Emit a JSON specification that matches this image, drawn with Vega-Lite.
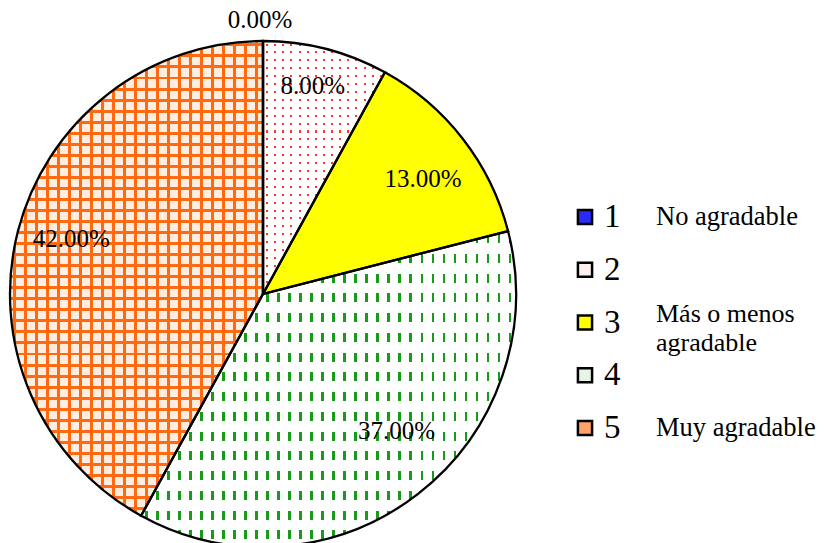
{
"$schema": "https://vega.github.io/schema/vega-lite/v6.json",
"background": "white",
"padding": 0,
"spacing": 44,
"datasets": {"d": [
 {"k": 1, "pct": 0, "desc": "No agradable"},
 {"k": 2, "pct": 0.08, "desc": ""},
 {"k": 3, "pct": 0.13, "desc": "Más o menos\nagradable"},
 {"k": 4, "pct": 0.37, "desc": ""},
 {"k": 5, "pct": 0.42, "desc": "Muy agradable"}
]},
"data": {"name": "d"},
"config": {"view": {"stroke": null}, "font": "Liberation Serif"},
"hconcat": [
{
 "width": 526, "height": 588,
 "transform": [{"stack": "pct", "groupby": [], "sort": [{"field": "k", "order": "ascending"}], "as": ["t0", "t1"]}],
 "layer": [
 {"transform": [{"filter": "datum.k == 2"}],
  "mark": {"type": "arc", "outerRadius": 253, "strokeWidth": 0, "fill": {"gradient": "linear", "x1": 0, "y1": 0, "x2": 1, "y2": 0, "stops": [
   {"offset":0,"color":"#fff"},
   {"offset":0.025,"color":"#fff"},{"offset":0.025,"color":"#f33"},{"offset":0.042,"color":"#f33"},{"offset":0.042,"color":"#fff"},
   {"offset":0.092,"color":"#fff"},{"offset":0.092,"color":"#f33"},{"offset":0.109,"color":"#f33"},{"offset":0.109,"color":"#fff"},
   {"offset":0.158,"color":"#fff"},{"offset":0.158,"color":"#f33"},{"offset":0.175,"color":"#f33"},{"offset":0.175,"color":"#fff"},
   {"offset":0.225,"color":"#fff"},{"offset":0.225,"color":"#f33"},{"offset":0.242,"color":"#f33"},{"offset":0.242,"color":"#fff"},
   {"offset":0.292,"color":"#fff"},{"offset":0.292,"color":"#f33"},{"offset":0.309,"color":"#f33"},{"offset":0.309,"color":"#fff"},
   {"offset":0.358,"color":"#fff"},{"offset":0.358,"color":"#f33"},{"offset":0.375,"color":"#f33"},{"offset":0.375,"color":"#fff"},
   {"offset":0.425,"color":"#fff"},{"offset":0.425,"color":"#f33"},{"offset":0.442,"color":"#f33"},{"offset":0.442,"color":"#fff"},
   {"offset":0.492,"color":"#fff"},{"offset":0.492,"color":"#f33"},{"offset":0.509,"color":"#f33"},{"offset":0.509,"color":"#fff"},
   {"offset":0.558,"color":"#fff"},{"offset":0.558,"color":"#f33"},{"offset":0.575,"color":"#f33"},{"offset":0.575,"color":"#fff"},
   {"offset":0.625,"color":"#fff"},{"offset":0.625,"color":"#f33"},{"offset":0.642,"color":"#f33"},{"offset":0.642,"color":"#fff"},
   {"offset":0.692,"color":"#fff"},{"offset":0.692,"color":"#f33"},{"offset":0.709,"color":"#f33"},{"offset":0.709,"color":"#fff"},
   {"offset":0.758,"color":"#fff"},{"offset":0.758,"color":"#f33"},{"offset":0.775,"color":"#f33"},{"offset":0.775,"color":"#fff"},
   {"offset":0.825,"color":"#fff"},{"offset":0.825,"color":"#f33"},{"offset":0.842,"color":"#f33"},{"offset":0.842,"color":"#fff"},
   {"offset":0.892,"color":"#fff"},{"offset":0.892,"color":"#f33"},{"offset":0.909,"color":"#f33"},{"offset":0.909,"color":"#fff"},
   {"offset":0.958,"color":"#fff"},{"offset":0.958,"color":"#f33"},{"offset":0.975,"color":"#f33"},{"offset":0.975,"color":"#fff"},
   {"offset":1,"color":"#fff"}]}},
  "encoding": {"theta": {"field": "t0", "type": "quantitative", "stack": null, "scale": {"domain": [0, 1]}}, "theta2": {"field": "t1"}}},
 {"transform": [{"filter": "datum.k == 2"}],
  "mark": {"type": "arc", "outerRadius": 253, "strokeWidth": 0, "fill": {"gradient": "linear", "x1": 0, "y1": 0, "x2": 0, "y2": 1, "stops": [
   {"offset":0,"color":"#fff"},
   {"offset":0.01,"color":"#fff"},{"offset":0.01,"color":"transparent"},{"offset":0.018,"color":"transparent"},{"offset":0.018,"color":"#fff"},
   {"offset":0.04125,"color":"#fff"},{"offset":0.04125,"color":"transparent"},{"offset":0.04925,"color":"transparent"},{"offset":0.04925,"color":"#fff"},
   {"offset":0.0725,"color":"#fff"},{"offset":0.0725,"color":"transparent"},{"offset":0.0805,"color":"transparent"},{"offset":0.0805,"color":"#fff"},
   {"offset":0.10375,"color":"#fff"},{"offset":0.10375,"color":"transparent"},{"offset":0.11175,"color":"transparent"},{"offset":0.11175,"color":"#fff"},
   {"offset":0.135,"color":"#fff"},{"offset":0.135,"color":"transparent"},{"offset":0.143,"color":"transparent"},{"offset":0.143,"color":"#fff"},
   {"offset":0.16625,"color":"#fff"},{"offset":0.16625,"color":"transparent"},{"offset":0.17425,"color":"transparent"},{"offset":0.17425,"color":"#fff"},
   {"offset":0.1975,"color":"#fff"},{"offset":0.1975,"color":"transparent"},{"offset":0.2055,"color":"transparent"},{"offset":0.2055,"color":"#fff"},
   {"offset":0.22875,"color":"#fff"},{"offset":0.22875,"color":"transparent"},{"offset":0.23675,"color":"transparent"},{"offset":0.23675,"color":"#fff"},
   {"offset":0.26,"color":"#fff"},{"offset":0.26,"color":"transparent"},{"offset":0.268,"color":"transparent"},{"offset":0.268,"color":"#fff"},
   {"offset":0.29125,"color":"#fff"},{"offset":0.29125,"color":"transparent"},{"offset":0.29925,"color":"transparent"},{"offset":0.29925,"color":"#fff"},
   {"offset":0.3225,"color":"#fff"},{"offset":0.3225,"color":"transparent"},{"offset":0.3305,"color":"transparent"},{"offset":0.3305,"color":"#fff"},
   {"offset":0.35375,"color":"#fff"},{"offset":0.35375,"color":"transparent"},{"offset":0.36175,"color":"transparent"},{"offset":0.36175,"color":"#fff"},
   {"offset":0.385,"color":"#fff"},{"offset":0.385,"color":"transparent"},{"offset":0.393,"color":"transparent"},{"offset":0.393,"color":"#fff"},
   {"offset":0.41625,"color":"#fff"},{"offset":0.41625,"color":"transparent"},{"offset":0.42425,"color":"transparent"},{"offset":0.42425,"color":"#fff"},
   {"offset":0.4475,"color":"#fff"},{"offset":0.4475,"color":"transparent"},{"offset":0.4555,"color":"transparent"},{"offset":0.4555,"color":"#fff"},
   {"offset":0.47875,"color":"#fff"},{"offset":0.47875,"color":"transparent"},{"offset":0.48675,"color":"transparent"},{"offset":0.48675,"color":"#fff"},
   {"offset":0.51,"color":"#fff"},{"offset":0.51,"color":"transparent"},{"offset":0.518,"color":"transparent"},{"offset":0.518,"color":"#fff"},
   {"offset":0.54125,"color":"#fff"},{"offset":0.54125,"color":"transparent"},{"offset":0.54925,"color":"transparent"},{"offset":0.54925,"color":"#fff"},
   {"offset":0.5725,"color":"#fff"},{"offset":0.5725,"color":"transparent"},{"offset":0.5805,"color":"transparent"},{"offset":0.5805,"color":"#fff"},
   {"offset":0.60375,"color":"#fff"},{"offset":0.60375,"color":"transparent"},{"offset":0.61175,"color":"transparent"},{"offset":0.61175,"color":"#fff"},
   {"offset":0.635,"color":"#fff"},{"offset":0.635,"color":"transparent"},{"offset":0.643,"color":"transparent"},{"offset":0.643,"color":"#fff"},
   {"offset":0.66625,"color":"#fff"},{"offset":0.66625,"color":"transparent"},{"offset":0.67425,"color":"transparent"},{"offset":0.67425,"color":"#fff"},
   {"offset":0.6975,"color":"#fff"},{"offset":0.6975,"color":"transparent"},{"offset":0.7055,"color":"transparent"},{"offset":0.7055,"color":"#fff"},
   {"offset":0.72875,"color":"#fff"},{"offset":0.72875,"color":"transparent"},{"offset":0.73675,"color":"transparent"},{"offset":0.73675,"color":"#fff"},
   {"offset":0.76,"color":"#fff"},{"offset":0.76,"color":"transparent"},{"offset":0.768,"color":"transparent"},{"offset":0.768,"color":"#fff"},
   {"offset":0.79125,"color":"#fff"},{"offset":0.79125,"color":"transparent"},{"offset":0.79925,"color":"transparent"},{"offset":0.79925,"color":"#fff"},
   {"offset":0.8225,"color":"#fff"},{"offset":0.8225,"color":"transparent"},{"offset":0.8305,"color":"transparent"},{"offset":0.8305,"color":"#fff"},
   {"offset":0.85375,"color":"#fff"},{"offset":0.85375,"color":"transparent"},{"offset":0.86175,"color":"transparent"},{"offset":0.86175,"color":"#fff"},
   {"offset":0.885,"color":"#fff"},{"offset":0.885,"color":"transparent"},{"offset":0.893,"color":"transparent"},{"offset":0.893,"color":"#fff"},
   {"offset":0.91625,"color":"#fff"},{"offset":0.91625,"color":"transparent"},{"offset":0.92425,"color":"transparent"},{"offset":0.92425,"color":"#fff"},
   {"offset":0.9475,"color":"#fff"},{"offset":0.9475,"color":"transparent"},{"offset":0.9555,"color":"transparent"},{"offset":0.9555,"color":"#fff"},
   {"offset":0.97875,"color":"#fff"},{"offset":0.97875,"color":"transparent"},{"offset":0.98675,"color":"transparent"},{"offset":0.98675,"color":"#fff"},
   {"offset":1,"color":"#fff"}]}},
  "encoding": {"theta": {"field": "t0", "type": "quantitative", "stack": null, "scale": {"domain": [0, 1]}}, "theta2": {"field": "t1"}}},
 {"transform": [{"filter": "datum.k == 3"}],
  "mark": {"type": "arc", "outerRadius": 253, "strokeWidth": 0, "fill": "#ffff00"},
  "encoding": {"theta": {"field": "t0", "type": "quantitative", "stack": null, "scale": {"domain": [0, 1]}}, "theta2": {"field": "t1"}}},
 {"transform": [{"filter": "datum.k == 4"}],
  "mark": {"type": "arc", "outerRadius": 253, "strokeWidth": 0, "fill": {"gradient": "linear", "x1": 0, "y1": 0, "x2": 1, "y2": 0, "stops": [
   {"offset":0,"color":"#fff"},
   {"offset":0.01,"color":"#fff"},{"offset":0.01,"color":"#1a9a1a"},{"offset":0.0172,"color":"#1a9a1a"},{"offset":0.0172,"color":"#fff"},
   {"offset":0.0394,"color":"#fff"},{"offset":0.0394,"color":"#1a9a1a"},{"offset":0.0466,"color":"#1a9a1a"},{"offset":0.0466,"color":"#fff"},
   {"offset":0.0688,"color":"#fff"},{"offset":0.0688,"color":"#1a9a1a"},{"offset":0.076,"color":"#1a9a1a"},{"offset":0.076,"color":"#fff"},
   {"offset":0.0982,"color":"#fff"},{"offset":0.0982,"color":"#1a9a1a"},{"offset":0.1054,"color":"#1a9a1a"},{"offset":0.1054,"color":"#fff"},
   {"offset":0.1277,"color":"#fff"},{"offset":0.1277,"color":"#1a9a1a"},{"offset":0.1349,"color":"#1a9a1a"},{"offset":0.1349,"color":"#fff"},
   {"offset":0.1571,"color":"#fff"},{"offset":0.1571,"color":"#1a9a1a"},{"offset":0.1643,"color":"#1a9a1a"},{"offset":0.1643,"color":"#fff"},
   {"offset":0.1865,"color":"#fff"},{"offset":0.1865,"color":"#1a9a1a"},{"offset":0.1937,"color":"#1a9a1a"},{"offset":0.1937,"color":"#fff"},
   {"offset":0.2159,"color":"#fff"},{"offset":0.2159,"color":"#1a9a1a"},{"offset":0.2231,"color":"#1a9a1a"},{"offset":0.2231,"color":"#fff"},
   {"offset":0.2453,"color":"#fff"},{"offset":0.2453,"color":"#1a9a1a"},{"offset":0.2525,"color":"#1a9a1a"},{"offset":0.2525,"color":"#fff"},
   {"offset":0.2747,"color":"#fff"},{"offset":0.2747,"color":"#1a9a1a"},{"offset":0.2819,"color":"#1a9a1a"},{"offset":0.2819,"color":"#fff"},
   {"offset":0.3041,"color":"#fff"},{"offset":0.3041,"color":"#1a9a1a"},{"offset":0.3113,"color":"#1a9a1a"},{"offset":0.3113,"color":"#fff"},
   {"offset":0.3335,"color":"#fff"},{"offset":0.3335,"color":"#1a9a1a"},{"offset":0.3407,"color":"#1a9a1a"},{"offset":0.3407,"color":"#fff"},
   {"offset":0.3629,"color":"#fff"},{"offset":0.3629,"color":"#1a9a1a"},{"offset":0.3701,"color":"#1a9a1a"},{"offset":0.3701,"color":"#fff"},
   {"offset":0.3924,"color":"#fff"},{"offset":0.3924,"color":"#1a9a1a"},{"offset":0.3996,"color":"#1a9a1a"},{"offset":0.3996,"color":"#fff"},
   {"offset":0.4218,"color":"#fff"},{"offset":0.4218,"color":"#1a9a1a"},{"offset":0.429,"color":"#1a9a1a"},{"offset":0.429,"color":"#fff"},
   {"offset":0.4512,"color":"#fff"},{"offset":0.4512,"color":"#1a9a1a"},{"offset":0.4584,"color":"#1a9a1a"},{"offset":0.4584,"color":"#fff"},
   {"offset":0.4806,"color":"#fff"},{"offset":0.4806,"color":"#1a9a1a"},{"offset":0.4878,"color":"#1a9a1a"},{"offset":0.4878,"color":"#fff"},
   {"offset":0.51,"color":"#fff"},{"offset":0.51,"color":"#1a9a1a"},{"offset":0.5172,"color":"#1a9a1a"},{"offset":0.5172,"color":"#fff"},
   {"offset":0.5394,"color":"#fff"},{"offset":0.5394,"color":"#1a9a1a"},{"offset":0.5466,"color":"#1a9a1a"},{"offset":0.5466,"color":"#fff"},
   {"offset":0.5688,"color":"#fff"},{"offset":0.5688,"color":"#1a9a1a"},{"offset":0.576,"color":"#1a9a1a"},{"offset":0.576,"color":"#fff"},
   {"offset":0.5982,"color":"#fff"},{"offset":0.5982,"color":"#1a9a1a"},{"offset":0.6054,"color":"#1a9a1a"},{"offset":0.6054,"color":"#fff"},
   {"offset":0.6277,"color":"#fff"},{"offset":0.6277,"color":"#1a9a1a"},{"offset":0.6349,"color":"#1a9a1a"},{"offset":0.6349,"color":"#fff"},
   {"offset":0.6571,"color":"#fff"},{"offset":0.6571,"color":"#1a9a1a"},{"offset":0.6643,"color":"#1a9a1a"},{"offset":0.6643,"color":"#fff"},
   {"offset":0.6865,"color":"#fff"},{"offset":0.6865,"color":"#1a9a1a"},{"offset":0.6937,"color":"#1a9a1a"},{"offset":0.6937,"color":"#fff"},
   {"offset":0.7159,"color":"#fff"},{"offset":0.7159,"color":"#1a9a1a"},{"offset":0.7231,"color":"#1a9a1a"},{"offset":0.7231,"color":"#fff"},
   {"offset":0.7453,"color":"#fff"},{"offset":0.7453,"color":"#1a9a1a"},{"offset":0.7525,"color":"#1a9a1a"},{"offset":0.7525,"color":"#fff"},
   {"offset":0.7747,"color":"#fff"},{"offset":0.7747,"color":"#1a9a1a"},{"offset":0.7819,"color":"#1a9a1a"},{"offset":0.7819,"color":"#fff"},
   {"offset":0.8041,"color":"#fff"},{"offset":0.8041,"color":"#1a9a1a"},{"offset":0.8113,"color":"#1a9a1a"},{"offset":0.8113,"color":"#fff"},
   {"offset":0.8335,"color":"#fff"},{"offset":0.8335,"color":"#1a9a1a"},{"offset":0.8407,"color":"#1a9a1a"},{"offset":0.8407,"color":"#fff"},
   {"offset":0.8629,"color":"#fff"},{"offset":0.8629,"color":"#1a9a1a"},{"offset":0.8701,"color":"#1a9a1a"},{"offset":0.8701,"color":"#fff"},
   {"offset":0.8924,"color":"#fff"},{"offset":0.8924,"color":"#1a9a1a"},{"offset":0.8996,"color":"#1a9a1a"},{"offset":0.8996,"color":"#fff"},
   {"offset":0.9218,"color":"#fff"},{"offset":0.9218,"color":"#1a9a1a"},{"offset":0.929,"color":"#1a9a1a"},{"offset":0.929,"color":"#fff"},
   {"offset":0.9512,"color":"#fff"},{"offset":0.9512,"color":"#1a9a1a"},{"offset":0.9584,"color":"#1a9a1a"},{"offset":0.9584,"color":"#fff"},
   {"offset":0.9806,"color":"#fff"},{"offset":0.9806,"color":"#1a9a1a"},{"offset":0.9878,"color":"#1a9a1a"},{"offset":0.9878,"color":"#fff"},
   {"offset":1,"color":"#fff"}]}},
  "encoding": {"theta": {"field": "t0", "type": "quantitative", "stack": null, "scale": {"domain": [0, 1]}}, "theta2": {"field": "t1"}}},
 {"transform": [{"filter": "datum.k == 4"}],
  "mark": {"type": "arc", "outerRadius": 253, "strokeWidth": 0, "fill": {"gradient": "linear", "x1": 0, "y1": 0, "x2": 0, "y2": 1, "stops": [
   {"offset":0,"color":"#fff"},
   {"offset":0.01,"color":"#fff"},{"offset":0.01,"color":"transparent"},{"offset":0.0385,"color":"transparent"},{"offset":0.0385,"color":"#fff"},
   {"offset":0.0725,"color":"#fff"},{"offset":0.0725,"color":"transparent"},{"offset":0.101,"color":"transparent"},{"offset":0.101,"color":"#fff"},
   {"offset":0.135,"color":"#fff"},{"offset":0.135,"color":"transparent"},{"offset":0.1635,"color":"transparent"},{"offset":0.1635,"color":"#fff"},
   {"offset":0.1975,"color":"#fff"},{"offset":0.1975,"color":"transparent"},{"offset":0.226,"color":"transparent"},{"offset":0.226,"color":"#fff"},
   {"offset":0.26,"color":"#fff"},{"offset":0.26,"color":"transparent"},{"offset":0.2885,"color":"transparent"},{"offset":0.2885,"color":"#fff"},
   {"offset":0.3225,"color":"#fff"},{"offset":0.3225,"color":"transparent"},{"offset":0.351,"color":"transparent"},{"offset":0.351,"color":"#fff"},
   {"offset":0.385,"color":"#fff"},{"offset":0.385,"color":"transparent"},{"offset":0.4135,"color":"transparent"},{"offset":0.4135,"color":"#fff"},
   {"offset":0.4475,"color":"#fff"},{"offset":0.4475,"color":"transparent"},{"offset":0.476,"color":"transparent"},{"offset":0.476,"color":"#fff"},
   {"offset":0.51,"color":"#fff"},{"offset":0.51,"color":"transparent"},{"offset":0.5385,"color":"transparent"},{"offset":0.5385,"color":"#fff"},
   {"offset":0.5725,"color":"#fff"},{"offset":0.5725,"color":"transparent"},{"offset":0.601,"color":"transparent"},{"offset":0.601,"color":"#fff"},
   {"offset":0.635,"color":"#fff"},{"offset":0.635,"color":"transparent"},{"offset":0.6635,"color":"transparent"},{"offset":0.6635,"color":"#fff"},
   {"offset":0.6975,"color":"#fff"},{"offset":0.6975,"color":"transparent"},{"offset":0.726,"color":"transparent"},{"offset":0.726,"color":"#fff"},
   {"offset":0.76,"color":"#fff"},{"offset":0.76,"color":"transparent"},{"offset":0.7885,"color":"transparent"},{"offset":0.7885,"color":"#fff"},
   {"offset":0.8225,"color":"#fff"},{"offset":0.8225,"color":"transparent"},{"offset":0.851,"color":"transparent"},{"offset":0.851,"color":"#fff"},
   {"offset":0.885,"color":"#fff"},{"offset":0.885,"color":"transparent"},{"offset":0.9135,"color":"transparent"},{"offset":0.9135,"color":"#fff"},
   {"offset":0.9475,"color":"#fff"},{"offset":0.9475,"color":"transparent"},{"offset":0.976,"color":"transparent"},{"offset":0.976,"color":"#fff"},
   {"offset":1,"color":"#fff"}]}},
  "encoding": {"theta": {"field": "t0", "type": "quantitative", "stack": null, "scale": {"domain": [0, 1]}}, "theta2": {"field": "t1"}}},
 {"transform": [{"filter": "datum.k == 5"}],
  "mark": {"type": "arc", "outerRadius": 253, "strokeWidth": 0, "fill": {"gradient": "linear", "x1": 0, "y1": 0, "x2": 1, "y2": 0, "stops": [
   {"offset":0,"color":"#ffeedf"},
   {"offset":0.01,"color":"#ffeedf"},{"offset":0.01,"color":"#ff6a10"},{"offset":0.0219,"color":"#ff6a10"},{"offset":0.0219,"color":"#ffeedf"},
   {"offset":0.0535,"color":"#ffeedf"},{"offset":0.0535,"color":"#ff6a10"},{"offset":0.0654,"color":"#ff6a10"},{"offset":0.0654,"color":"#ffeedf"},
   {"offset":0.097,"color":"#ffeedf"},{"offset":0.097,"color":"#ff6a10"},{"offset":0.1089,"color":"#ff6a10"},{"offset":0.1089,"color":"#ffeedf"},
   {"offset":0.1404,"color":"#ffeedf"},{"offset":0.1404,"color":"#ff6a10"},{"offset":0.1523,"color":"#ff6a10"},{"offset":0.1523,"color":"#ffeedf"},
   {"offset":0.1839,"color":"#ffeedf"},{"offset":0.1839,"color":"#ff6a10"},{"offset":0.1958,"color":"#ff6a10"},{"offset":0.1958,"color":"#ffeedf"},
   {"offset":0.2274,"color":"#ffeedf"},{"offset":0.2274,"color":"#ff6a10"},{"offset":0.2393,"color":"#ff6a10"},{"offset":0.2393,"color":"#ffeedf"},
   {"offset":0.2709,"color":"#ffeedf"},{"offset":0.2709,"color":"#ff6a10"},{"offset":0.2828,"color":"#ff6a10"},{"offset":0.2828,"color":"#ffeedf"},
   {"offset":0.3143,"color":"#ffeedf"},{"offset":0.3143,"color":"#ff6a10"},{"offset":0.3262,"color":"#ff6a10"},{"offset":0.3262,"color":"#ffeedf"},
   {"offset":0.3578,"color":"#ffeedf"},{"offset":0.3578,"color":"#ff6a10"},{"offset":0.3697,"color":"#ff6a10"},{"offset":0.3697,"color":"#ffeedf"},
   {"offset":0.4013,"color":"#ffeedf"},{"offset":0.4013,"color":"#ff6a10"},{"offset":0.4132,"color":"#ff6a10"},{"offset":0.4132,"color":"#ffeedf"},
   {"offset":0.4448,"color":"#ffeedf"},{"offset":0.4448,"color":"#ff6a10"},{"offset":0.4567,"color":"#ff6a10"},{"offset":0.4567,"color":"#ffeedf"},
   {"offset":0.4883,"color":"#ffeedf"},{"offset":0.4883,"color":"#ff6a10"},{"offset":0.5002,"color":"#ff6a10"},{"offset":0.5002,"color":"#ffeedf"},
   {"offset":0.5317,"color":"#ffeedf"},{"offset":0.5317,"color":"#ff6a10"},{"offset":0.5436,"color":"#ff6a10"},{"offset":0.5436,"color":"#ffeedf"},
   {"offset":0.5752,"color":"#ffeedf"},{"offset":0.5752,"color":"#ff6a10"},{"offset":0.5871,"color":"#ff6a10"},{"offset":0.5871,"color":"#ffeedf"},
   {"offset":0.6187,"color":"#ffeedf"},{"offset":0.6187,"color":"#ff6a10"},{"offset":0.6306,"color":"#ff6a10"},{"offset":0.6306,"color":"#ffeedf"},
   {"offset":0.6622,"color":"#ffeedf"},{"offset":0.6622,"color":"#ff6a10"},{"offset":0.6741,"color":"#ff6a10"},{"offset":0.6741,"color":"#ffeedf"},
   {"offset":0.7057,"color":"#ffeedf"},{"offset":0.7057,"color":"#ff6a10"},{"offset":0.7176,"color":"#ff6a10"},{"offset":0.7176,"color":"#ffeedf"},
   {"offset":0.7491,"color":"#ffeedf"},{"offset":0.7491,"color":"#ff6a10"},{"offset":0.761,"color":"#ff6a10"},{"offset":0.761,"color":"#ffeedf"},
   {"offset":0.7926,"color":"#ffeedf"},{"offset":0.7926,"color":"#ff6a10"},{"offset":0.8045,"color":"#ff6a10"},{"offset":0.8045,"color":"#ffeedf"},
   {"offset":0.8361,"color":"#ffeedf"},{"offset":0.8361,"color":"#ff6a10"},{"offset":0.848,"color":"#ff6a10"},{"offset":0.848,"color":"#ffeedf"},
   {"offset":0.8796,"color":"#ffeedf"},{"offset":0.8796,"color":"#ff6a10"},{"offset":0.8915,"color":"#ff6a10"},{"offset":0.8915,"color":"#ffeedf"},
   {"offset":0.923,"color":"#ffeedf"},{"offset":0.923,"color":"#ff6a10"},{"offset":0.9349,"color":"#ff6a10"},{"offset":0.9349,"color":"#ffeedf"},
   {"offset":0.9665,"color":"#ffeedf"},{"offset":0.9665,"color":"#ff6a10"},{"offset":0.9784,"color":"#ff6a10"},{"offset":0.9784,"color":"#ffeedf"},
   {"offset":1,"color":"#ffeedf"}]}},
  "encoding": {"theta": {"field": "t0", "type": "quantitative", "stack": null, "scale": {"domain": [0, 1]}}, "theta2": {"field": "t1"}}},
 {"transform": [{"filter": "datum.k == 5"}],
  "mark": {"type": "arc", "outerRadius": 253, "strokeWidth": 0, "fill": {"gradient": "linear", "x1": 0, "y1": 0, "x2": 0, "y2": 1, "stops": [
   {"offset":0,"color":"transparent"},
   {"offset":0.005,"color":"transparent"},{"offset":0.005,"color":"#ff6a10"},{"offset":0.0113,"color":"#ff6a10"},{"offset":0.0113,"color":"transparent"},
   {"offset":0.0283,"color":"transparent"},{"offset":0.0283,"color":"#ff6a10"},{"offset":0.0346,"color":"#ff6a10"},{"offset":0.0346,"color":"transparent"},
   {"offset":0.0515,"color":"transparent"},{"offset":0.0515,"color":"#ff6a10"},{"offset":0.0578,"color":"#ff6a10"},{"offset":0.0578,"color":"transparent"},
   {"offset":0.0748,"color":"transparent"},{"offset":0.0748,"color":"#ff6a10"},{"offset":0.0811,"color":"#ff6a10"},{"offset":0.0811,"color":"transparent"},
   {"offset":0.098,"color":"transparent"},{"offset":0.098,"color":"#ff6a10"},{"offset":0.1043,"color":"#ff6a10"},{"offset":0.1043,"color":"transparent"},
   {"offset":0.1213,"color":"transparent"},{"offset":0.1213,"color":"#ff6a10"},{"offset":0.1276,"color":"#ff6a10"},{"offset":0.1276,"color":"transparent"},
   {"offset":0.1445,"color":"transparent"},{"offset":0.1445,"color":"#ff6a10"},{"offset":0.1508,"color":"#ff6a10"},{"offset":0.1508,"color":"transparent"},
   {"offset":0.1678,"color":"transparent"},{"offset":0.1678,"color":"#ff6a10"},{"offset":0.1741,"color":"#ff6a10"},{"offset":0.1741,"color":"transparent"},
   {"offset":0.1911,"color":"transparent"},{"offset":0.1911,"color":"#ff6a10"},{"offset":0.1974,"color":"#ff6a10"},{"offset":0.1974,"color":"transparent"},
   {"offset":0.2143,"color":"transparent"},{"offset":0.2143,"color":"#ff6a10"},{"offset":0.2206,"color":"#ff6a10"},{"offset":0.2206,"color":"transparent"},
   {"offset":0.2376,"color":"transparent"},{"offset":0.2376,"color":"#ff6a10"},{"offset":0.2439,"color":"#ff6a10"},{"offset":0.2439,"color":"transparent"},
   {"offset":0.2608,"color":"transparent"},{"offset":0.2608,"color":"#ff6a10"},{"offset":0.2671,"color":"#ff6a10"},{"offset":0.2671,"color":"transparent"},
   {"offset":0.2841,"color":"transparent"},{"offset":0.2841,"color":"#ff6a10"},{"offset":0.2904,"color":"#ff6a10"},{"offset":0.2904,"color":"transparent"},
   {"offset":0.3073,"color":"transparent"},{"offset":0.3073,"color":"#ff6a10"},{"offset":0.3136,"color":"#ff6a10"},{"offset":0.3136,"color":"transparent"},
   {"offset":0.3306,"color":"transparent"},{"offset":0.3306,"color":"#ff6a10"},{"offset":0.3369,"color":"#ff6a10"},{"offset":0.3369,"color":"transparent"},
   {"offset":0.3538,"color":"transparent"},{"offset":0.3538,"color":"#ff6a10"},{"offset":0.3601,"color":"#ff6a10"},{"offset":0.3601,"color":"transparent"},
   {"offset":0.3771,"color":"transparent"},{"offset":0.3771,"color":"#ff6a10"},{"offset":0.3834,"color":"#ff6a10"},{"offset":0.3834,"color":"transparent"},
   {"offset":0.4004,"color":"transparent"},{"offset":0.4004,"color":"#ff6a10"},{"offset":0.4067,"color":"#ff6a10"},{"offset":0.4067,"color":"transparent"},
   {"offset":0.4236,"color":"transparent"},{"offset":0.4236,"color":"#ff6a10"},{"offset":0.4299,"color":"#ff6a10"},{"offset":0.4299,"color":"transparent"},
   {"offset":0.4469,"color":"transparent"},{"offset":0.4469,"color":"#ff6a10"},{"offset":0.4532,"color":"#ff6a10"},{"offset":0.4532,"color":"transparent"},
   {"offset":0.4701,"color":"transparent"},{"offset":0.4701,"color":"#ff6a10"},{"offset":0.4764,"color":"#ff6a10"},{"offset":0.4764,"color":"transparent"},
   {"offset":0.4934,"color":"transparent"},{"offset":0.4934,"color":"#ff6a10"},{"offset":0.4997,"color":"#ff6a10"},{"offset":0.4997,"color":"transparent"},
   {"offset":0.5166,"color":"transparent"},{"offset":0.5166,"color":"#ff6a10"},{"offset":0.5229,"color":"#ff6a10"},{"offset":0.5229,"color":"transparent"},
   {"offset":0.5399,"color":"transparent"},{"offset":0.5399,"color":"#ff6a10"},{"offset":0.5462,"color":"#ff6a10"},{"offset":0.5462,"color":"transparent"},
   {"offset":0.5631,"color":"transparent"},{"offset":0.5631,"color":"#ff6a10"},{"offset":0.5694,"color":"#ff6a10"},{"offset":0.5694,"color":"transparent"},
   {"offset":0.5864,"color":"transparent"},{"offset":0.5864,"color":"#ff6a10"},{"offset":0.5927,"color":"#ff6a10"},{"offset":0.5927,"color":"transparent"},
   {"offset":0.6097,"color":"transparent"},{"offset":0.6097,"color":"#ff6a10"},{"offset":0.616,"color":"#ff6a10"},{"offset":0.616,"color":"transparent"},
   {"offset":0.6329,"color":"transparent"},{"offset":0.6329,"color":"#ff6a10"},{"offset":0.6392,"color":"#ff6a10"},{"offset":0.6392,"color":"transparent"},
   {"offset":0.6562,"color":"transparent"},{"offset":0.6562,"color":"#ff6a10"},{"offset":0.6625,"color":"#ff6a10"},{"offset":0.6625,"color":"transparent"},
   {"offset":0.6794,"color":"transparent"},{"offset":0.6794,"color":"#ff6a10"},{"offset":0.6857,"color":"#ff6a10"},{"offset":0.6857,"color":"transparent"},
   {"offset":0.7027,"color":"transparent"},{"offset":0.7027,"color":"#ff6a10"},{"offset":0.709,"color":"#ff6a10"},{"offset":0.709,"color":"transparent"},
   {"offset":0.7259,"color":"transparent"},{"offset":0.7259,"color":"#ff6a10"},{"offset":0.7322,"color":"#ff6a10"},{"offset":0.7322,"color":"transparent"},
   {"offset":0.7492,"color":"transparent"},{"offset":0.7492,"color":"#ff6a10"},{"offset":0.7555,"color":"#ff6a10"},{"offset":0.7555,"color":"transparent"},
   {"offset":0.7724,"color":"transparent"},{"offset":0.7724,"color":"#ff6a10"},{"offset":0.7787,"color":"#ff6a10"},{"offset":0.7787,"color":"transparent"},
   {"offset":0.7957,"color":"transparent"},{"offset":0.7957,"color":"#ff6a10"},{"offset":0.802,"color":"#ff6a10"},{"offset":0.802,"color":"transparent"},
   {"offset":0.819,"color":"transparent"},{"offset":0.819,"color":"#ff6a10"},{"offset":0.8253,"color":"#ff6a10"},{"offset":0.8253,"color":"transparent"},
   {"offset":0.8422,"color":"transparent"},{"offset":0.8422,"color":"#ff6a10"},{"offset":0.8485,"color":"#ff6a10"},{"offset":0.8485,"color":"transparent"},
   {"offset":0.8655,"color":"transparent"},{"offset":0.8655,"color":"#ff6a10"},{"offset":0.8718,"color":"#ff6a10"},{"offset":0.8718,"color":"transparent"},
   {"offset":0.8887,"color":"transparent"},{"offset":0.8887,"color":"#ff6a10"},{"offset":0.895,"color":"#ff6a10"},{"offset":0.895,"color":"transparent"},
   {"offset":0.912,"color":"transparent"},{"offset":0.912,"color":"#ff6a10"},{"offset":0.9183,"color":"#ff6a10"},{"offset":0.9183,"color":"transparent"},
   {"offset":0.9352,"color":"transparent"},{"offset":0.9352,"color":"#ff6a10"},{"offset":0.9415,"color":"#ff6a10"},{"offset":0.9415,"color":"transparent"},
   {"offset":0.9585,"color":"transparent"},{"offset":0.9585,"color":"#ff6a10"},{"offset":0.9648,"color":"#ff6a10"},{"offset":0.9648,"color":"transparent"},
   {"offset":0.9817,"color":"transparent"},{"offset":0.9817,"color":"#ff6a10"},{"offset":0.988,"color":"#ff6a10"},{"offset":0.988,"color":"transparent"},
   {"offset":1,"color":"transparent"}]}},
  "encoding": {"theta": {"field": "t0", "type": "quantitative", "stack": null, "scale": {"domain": [0, 1]}}, "theta2": {"field": "t1"}}},
 {"mark": {"type": "arc", "outerRadius": 253, "fill": "#ffffff", "fillOpacity": 0, "stroke": "#000000", "strokeWidth": 2.3},
  "encoding": {"theta": {"field": "t0", "type": "quantitative", "stack": null, "scale": {"domain": [0, 1]}}, "theta2": {"field": "t1"}}},
 {"mark": {"type": "text", "radius": 200, "dx": 0, "dy": -14, "fontSize": 25, "font": "Liberation Serif", "color": "#000000", "align": "center", "baseline": "middle"},
  "encoding": {
   "theta": {"field": "pct", "type": "quantitative", "stack": true, "scale": {"domain": [0, 1]}},
   "order": {"field": "k", "type": "quantitative", "sort": "ascending"},
   "text": {"field": "pct", "type": "quantitative", "format": ".2%", "condition": {"test": "datum.k != 2", "value": ""}}}},
 {"mark": {"type": "text", "radius": 200, "dx": 2, "dy": 8, "fontSize": 25, "font": "Liberation Serif", "color": "#000000", "align": "center", "baseline": "middle"},
  "encoding": {
   "theta": {"field": "pct", "type": "quantitative", "stack": true, "scale": {"domain": [0, 1]}},
   "order": {"field": "k", "type": "quantitative", "sort": "ascending"},
   "text": {"field": "pct", "type": "quantitative", "format": ".2%", "condition": {"test": "datum.k != 3", "value": ""}}}},
 {"mark": {"type": "text", "radius": 200, "dx": 11, "dy": -21, "fontSize": 25, "font": "Liberation Serif", "color": "#000000", "align": "center", "baseline": "middle"},
  "encoding": {
   "theta": {"field": "pct", "type": "quantitative", "stack": true, "scale": {"domain": [0, 1]}},
   "order": {"field": "k", "type": "quantitative", "sort": "ascending"},
   "text": {"field": "pct", "type": "quantitative", "format": ".2%", "condition": {"test": "datum.k != 4", "value": ""}}}},
 {"mark": {"type": "text", "radius": 200, "dx": 2, "dy": -5, "fontSize": 25, "font": "Liberation Serif", "color": "#000000", "align": "center", "baseline": "middle"},
  "encoding": {
   "theta": {"field": "pct", "type": "quantitative", "stack": true, "scale": {"domain": [0, 1]}},
   "order": {"field": "k", "type": "quantitative", "sort": "ascending"},
   "text": {"field": "pct", "type": "quantitative", "format": ".2%", "condition": {"test": "datum.k != 5", "value": ""}}}},
 {"transform": [{"filter": "datum.k == 1"}],
  "mark": {"type": "text", "radius": 274, "dx": -3, "fontSize": 25, "font": "Liberation Serif", "color": "#000000", "align": "center", "baseline": "middle"},
  "encoding": {
   "theta": {"field": "t0", "type": "quantitative", "stack": null, "scale": {"domain": [0, 1]}},
   "text": {"field": "pct", "type": "quantitative", "format": ".2%"}}}
 ]
},
{
 "width": 255, "height": 588,
 "layer": [
 {"mark": {"type": "point", "shape": "square", "filled": true, "size": 200, "stroke": "#000000", "strokeWidth": 2.5, "opacity": 1},
  "encoding": {
   "x": {"datum": 15, "type": "quantitative", "scale": {"domain": [0, 255], "nice": false, "zero": true}, "axis": null},
   "y": {"field": "k", "type": "ordinal", "scale": {"type": "point", "domain": [1, 2, 3, 4, 5], "range": [217, 428], "padding": 0}, "axis": null},
   "fill": {"field": "k", "type": "nominal", "scale": {"domain": [1, 2, 3, 4, 5], "range": ["#2a2aff", "#fff0f0", "#ffff00", "#e6f4e6", "#ffa466"]}, "legend": null}}},
 {"mark": {"type": "text", "align": "left", "baseline": "middle", "fontSize": 33, "font": "Liberation Serif", "color": "#000000"},
  "encoding": {
   "x": {"datum": 34, "type": "quantitative", "scale": {"domain": [0, 255], "nice": false, "zero": true}, "axis": null},
   "y": {"field": "k", "type": "ordinal", "scale": {"type": "point", "domain": [1, 2, 3, 4, 5], "range": [217, 428], "padding": 0}, "axis": null},
   "text": {"field": "k", "type": "nominal"}}},
 {"transform": [{"filter": "datum.k != 3"}],
  "mark": {"type": "text", "align": "left", "baseline": "middle", "fontSize": 26.5, "font": "Liberation Serif", "color": "#000000"},
  "encoding": {
   "x": {"datum": 86, "type": "quantitative", "scale": {"domain": [0, 255], "nice": false, "zero": true}, "axis": null},
   "y": {"field": "k", "type": "ordinal", "scale": {"type": "point", "domain": [1, 2, 3, 4, 5], "range": [217, 428], "padding": 0}, "axis": null},
   "text": {"field": "desc", "type": "nominal"}}},
 {"transform": [{"filter": "datum.k == 3"}],
  "mark": {"type": "text", "align": "left", "baseline": "middle", "fontSize": 26, "font": "Liberation Serif", "color": "#000000", "lineBreak": "\n", "lineHeight": 29, "dy": -9},
  "encoding": {
   "x": {"datum": 86, "type": "quantitative", "scale": {"domain": [0, 255], "nice": false, "zero": true}, "axis": null},
   "y": {"field": "k", "type": "ordinal", "scale": {"type": "point", "domain": [1, 2, 3, 4, 5], "range": [217, 428], "padding": 0}, "axis": null},
   "text": {"field": "desc", "type": "nominal"}}}
 ]
}
]
}
